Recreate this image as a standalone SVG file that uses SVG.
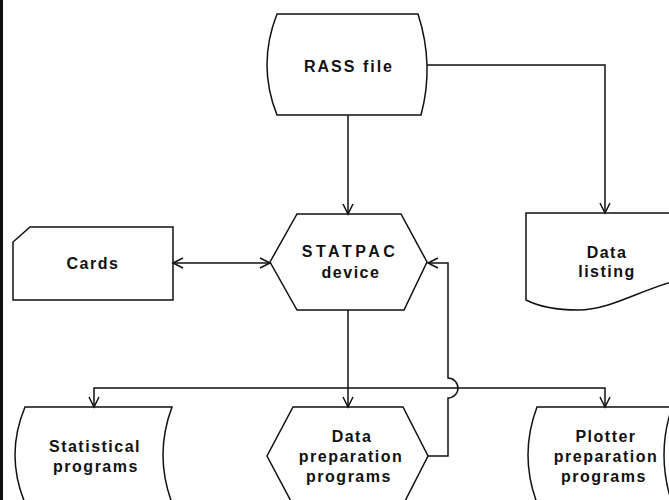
<svg xmlns="http://www.w3.org/2000/svg" width="669" height="500" viewBox="0 0 669 500">
<style>
.s{fill:none;stroke:#111;stroke-width:1.5;stroke-linejoin:miter}
.c{fill:none;stroke:#111;stroke-width:1.5}
text{font-family:"Liberation Sans",Arial,sans-serif;font-weight:bold;font-size:16px;fill:#111;text-anchor:middle;letter-spacing:1.5px}
</style>
<defs>
<marker id="a" markerUnits="userSpaceOnUse" markerWidth="14" markerHeight="14" refX="11" refY="6" orient="auto-start-reverse" viewBox="0 0 14 12">
<path d="M1,1 L11,6 L1,11" fill="none" stroke="#111" stroke-width="1.5"/>
</marker>
</defs>
<rect width="669" height="500" fill="#fff"/>
<rect x="0" y="0" width="3" height="500" fill="#111"/>
<g id="rass">
<path class="s" d="M277,14 H418 Q434.5,65 421,115 H277 Q257,65 277,14 Z"/>
<text x="349" y="72" style="letter-spacing:2px">RASS file</text>
</g>
<g id="statpac">
<path class="s" d="M297,214 H401 L427,262 L404,310 H297 L270,262 Z"/>
<text x="350" y="257" style="letter-spacing:3.5px">STATPAC</text>
<text x="351" y="278">device</text>
</g>
<g id="cards">
<path class="s" d="M30,227 H173 V300 H13 V242 Z"/>
<text x="93" y="269">Cards</text>
</g>
<g id="listing">
<path class="s" d="M526,213 H675 V281 C640,290 610,310 578,310 C555,310 538,306 526,300 Z"/>
<text x="607" y="258">Data</text>
<text x="607" y="277">listing</text>
</g>
<g id="stat">
<path class="s" d="M25,407 H172 Q154,455 172,503 H25 Q5,455 25,407 Z"/>
<text x="95" y="452">Statistical</text>
<text x="96" y="472">programs</text>
</g>
<g id="prep">
<path class="s" d="M293,407 H403 L428,456 L403,505 H293 L267,456 Z"/>
<text x="352" y="442">Data</text>
<text x="351" y="462">preparation</text>
<text x="349" y="482">programs</text>
</g>
<g id="plotter">
<path class="s" d="M537,407 H672 Q656,455 672,503 H537 Q519,455 537,407 Z"/>
<text x="606" y="442">Plotter</text>
<text x="606" y="462">preparation</text>
<text x="604" y="482">programs</text>
</g>
<g id="connectors">
<path class="c" d="M348,115 V214" marker-end="url(#a)"/>
<path class="c" d="M427,65 H605 V213" marker-end="url(#a)"/>
<path class="c" d="M173,263 H270" marker-start="url(#a)" marker-end="url(#a)"/>
<path class="c" d="M348,310 V407" marker-end="url(#a)"/>
<path class="c" d="M348,388 H94 V407" marker-end="url(#a)"/>
<path class="c" d="M348,388 H605 V407" marker-end="url(#a)"/>
<path class="c" d="M428,456 H448 V398 A10,10 0 0 0 448,378 V263 H428" marker-end="url(#a)"/>
</g>
</svg>
